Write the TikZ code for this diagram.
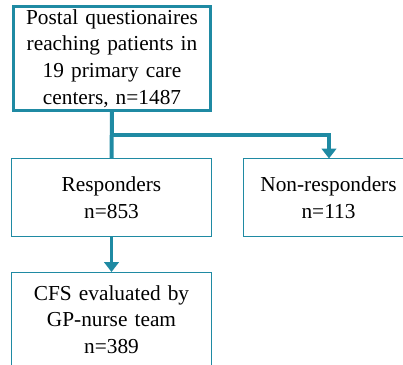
\documentclass[tikz,border=0pt]{standalone}
\usepackage{fontspec}
\setmainfont{Liberation Serif}
\usetikzlibrary{arrows.meta, positioning}
\definecolor{bordeTeal}{RGB}{31,138,163}

\begin{document}
\begin{tikzpicture}[
  x=0.75pt, y=-0.75pt,
  font=\fontsize{16}{20}\selectfont,
  caja/.style={draw=bordeTeal, line width=0.75pt, align=center,
               inner sep=0pt, text width=140pt},
  cajaTop/.style={caja, line width=2.25pt},
  tronco/.style={draw=bordeTeal, line width=3pt},
  rama/.style={-{Triangle[length=7.5pt, width=11pt]}, draw=bordeTeal,
               line width=2.4pt}
]
\useasboundingbox (0,0) rectangle (403,364);

\node[cajaTop, minimum width=147.75pt, minimum height=78pt] (postal) at (112,58.5)
  {Postal questionaires\\ reaching patients in\\ 19 primary care\\ centers, n=1487};
\node[caja, minimum width=150pt, minimum height=58.5pt] (resp) at (111.5,197.5)
  {Responders\\ n=853};
\node[caja, minimum width=135pt, minimum height=58.5pt, text width=120pt] (nonresp) at (333.5,197.5)
  {\hspace*{-7.5pt}Non-responders\\ \hspace*{-7.5pt}n=113};
\node[caja, minimum width=150pt, minimum height=70.5pt] (cfs) at (111.5,319.5)
  {CFS evaluated by\\ GP-nurse team\\ n=389};

\coordinate (cruce) at (112,135);
\coordinate (llegada) at (329,158.5);

\draw[tronco] (postal.south) -- (resp.north);
\draw[rama] (cruce) -| (llegada);
\draw[rama] (resp.south) -- (cfs.north);

\end{tikzpicture}
\end{document}
